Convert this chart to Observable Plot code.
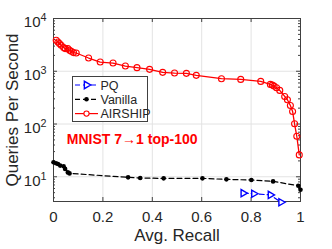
<!DOCTYPE html>
<html><head><meta charset="utf-8">
<script src="https://cdn.jsdelivr.net/npm/d3@7"></script>
<script src="https://cdn.jsdelivr.net/npm/@observablehq/plot@0.6"></script>
<style>body{margin:0;background:#fff} svg{display:block}</style>
</head><body><div id="chart"></div>
<script>
const xTicks = [0, 0.2, 0.4, 0.6, 0.8, 1];
const yTicks = [10, 100, 1000, 10000];
const xLabel = "Avg. Recall";
const yLabel = "Queries Per Second";
const annotation = "MNIST 7\u21921 top-100";
const annotationX = 0.054, annotationY = 50;

const airshipRecall = [0.011,0.018,0.024,0.031,0.041,0.047,0.058,0.065,0.072,0.081,0.092,0.142,0.189,0.241,0.291,0.338,0.389,0.442,0.490,0.538,0.578,0.680,0.758,0.839,0.878,0.886,0.893,0.903,0.916,0.936,0.947,0.959,0.968,0.976,0.985,0.995];
const airshipQps = [3869,3590,3347,3108,2810,2690,2690,2496,2389,2257,2218,1782,1496,1432,1256,1170,1087,953,924,912,836,723,701,643,564,547,523,488,434,333,288,225,173,101,58.6,26];
const vanillaRecall = [0,0.010,0.018,0.027,0.041,0.047,0.058,0.065,0.302,0.351,0.446,0.603,0.700,0.801,0.889,0.991,1.0];
const vanillaQps = [18.8,18.0,17.5,16.3,15.8,14.1,12.1,11.6,9.75,9.49,9.33,9.33,8.93,8.69,8.18,6.78,5.69];
const pqRecall = [0.768,0.811,0.878,0.921];
const pqQps = [4.88,4.77,4.53,3.29];

const series = [
  {name:"PQ", color:"#0000ff", dash:"5,3", recall:pqRecall, qps:pqQps},
  {name:"Vanilla", color:"#000000", dash:"5,3", recall:vanillaRecall, qps:vanillaQps},
  {name:"AIRSHIP", color:"#ff0000", dash:null, recall:airshipRecall, qps:airshipQps}
];
const rows = s => s.recall.map((r,i)=>({r, q:s.qps[i]}));
const pq = rows(series[0]), van = rows(series[1]), air = rows(series[2]);

const W=332, H=249, mL=53, mR=32, mT=18, mB=48;
const innerW = W-mL-mR, innerH = H-mT-mB;
const yMinor = [];
for (const dec of [1,10,100,1000]) for (let k=2;k<=9;k++){ const v=k*dec; if (v>=3.4) yMinor.push(v); }
const xInner = xTicks.slice(1,-1);
const yInner = yTicks.slice(0,-1);

const plot = Plot.plot({
  width: W, height: H, marginLeft: mL, marginRight: mR, marginTop: mT, marginBottom: mB,
  style: {fontFamily: "'Liberation Sans', Arial, sans-serif", fontSize: "15px", background: "#fff", color: "#262626"},
  x: {domain: [0,1]},
  y: {type: "log", domain: [3.4, 10000]},
  marks: [
    Plot.gridX(xInner, {stroke: "#e3e3e3", strokeOpacity: 1}),
    Plot.gridY(yInner, {stroke: "#e3e3e3", strokeOpacity: 1}),
    Plot.frame({stroke: "#404040"}),
    Plot.tickX(xTicks, {x: d=>d, insetTop: innerH-4, stroke:"#404040"}),
    Plot.tickX(xTicks, {x: d=>d, insetBottom: innerH-4, stroke:"#404040"}),
    Plot.tickY(yTicks, {y: d=>d, insetRight: innerW-4, stroke:"#404040"}),
    Plot.tickY(yTicks, {y: d=>d, insetLeft: innerW-4, stroke:"#404040"}),
    Plot.tickY(yMinor, {y: d=>d, insetRight: innerW-2, stroke:"#404040"}),
    Plot.tickY(yMinor, {y: d=>d, insetLeft: innerW-2, stroke:"#404040"}),
    Plot.axisX(xTicks, {tickSize: 0, tickPadding: 10, label: null, fontSize: 15, fill: "#262626", tickFormat: d => String(d)}),
    Plot.axisY(yTicks, {tickSize: 0, tickPadding: 7, label: null, fontSize: 15, dy: 4, fill: "#262626",
      tickFormat: d => String(Math.round(Math.log10(d)))}),
    Plot.text([yLabel], {frameAnchor: "left", dx: -41, rotate: -90, textAnchor: "middle", fontSize: 17, fill: "#262626"}),
    Plot.text([xLabel], {frameAnchor: "bottom", dy: 39, textAnchor: "middle", fontSize: 17, fill: "#262626"}),
    Plot.line(van, {x: "r", y: "q", stroke: series[1].color, strokeDasharray: series[1].dash, strokeWidth: 1.2}),
    Plot.dot(van, {x: "r", y: "q", fill: series[1].color, r: 2.3}),
    Plot.line(pq, {x: "r", y: "q", stroke: series[0].color, strokeDasharray: series[0].dash, strokeWidth: 1.2}),
    Plot.dot(pq, {x: "r", y: "q", symbol: "triangle", rotate: 90, stroke: series[0].color, fill: "#fff", strokeWidth: 1.4, r: 2.7}),
    Plot.line(air, {x: "r", y: "q", stroke: series[2].color, strokeWidth: 1.3}),
    Plot.dot(air, {x: "r", y: "q", stroke: series[2].color, fill: "none", strokeWidth: 1.1, r: 3}),
    Plot.text([annotation], {x: annotationX, y: annotationY, text: d=>d, textAnchor: "start", fill: "#ff0000", fontWeight: "bold", fontSize: 14})
  ]
});

const ns = "http://www.w3.org/2000/svg";
plot.querySelectorAll('g[aria-label="y-axis tick label"] text').forEach(t => {
  const e = t.textContent;
  t.textContent = "10";
  const ts = document.createElementNS(ns, "tspan");
  ts.setAttribute("dy", "-0.55em");
  ts.setAttribute("font-size", "0.72em");
  ts.textContent = e;
  t.appendChild(ts);
});

// legend
const svg = d3.select(plot);
const lg = svg.append("g").attr("font-family", "'Liberation Sans', Arial, sans-serif").attr("font-size", 12.5).attr("text-anchor", "start");
lg.append("rect").attr("x", 72.5).attr("y", 76.5).attr("width", 75).attr("height", 45).attr("fill", "#fff").attr("stroke", "#404040").attr("stroke-width", 1);
series.forEach((s, i) => {
  const y = 85 + i*14.3;
  const ln = lg.append("line").attr("x1", 75).attr("x2", 98).attr("y1", y).attr("y2", y).attr("stroke", s.color).attr("stroke-width", 1.2);
  if (s.dash) ln.attr("stroke-dasharray", s.dash);
  if (s.name === "PQ") lg.append("path").attr("d", d3.symbol(d3.symbolTriangle, 24)()).attr("transform", `translate(86.5,${y}) rotate(90)`).attr("fill", "#fff").attr("stroke", s.color).attr("stroke-width", 1.4);
  else if (s.name === "Vanilla") lg.append("circle").attr("cx", 86.5).attr("cy", y).attr("r", 2.3).attr("fill", s.color);
  else lg.append("circle").attr("cx", 86.5).attr("cy", y).attr("r", 2.6).attr("fill", "#fff").attr("stroke", s.color).attr("stroke-width", 1.1);
  lg.append("text").attr("x", 100.5).attr("y", y).attr("dy", "0.36em").attr("fill", "#262626").text(s.name);
});

document.getElementById("chart").appendChild(plot);
</script>
</body></html>
